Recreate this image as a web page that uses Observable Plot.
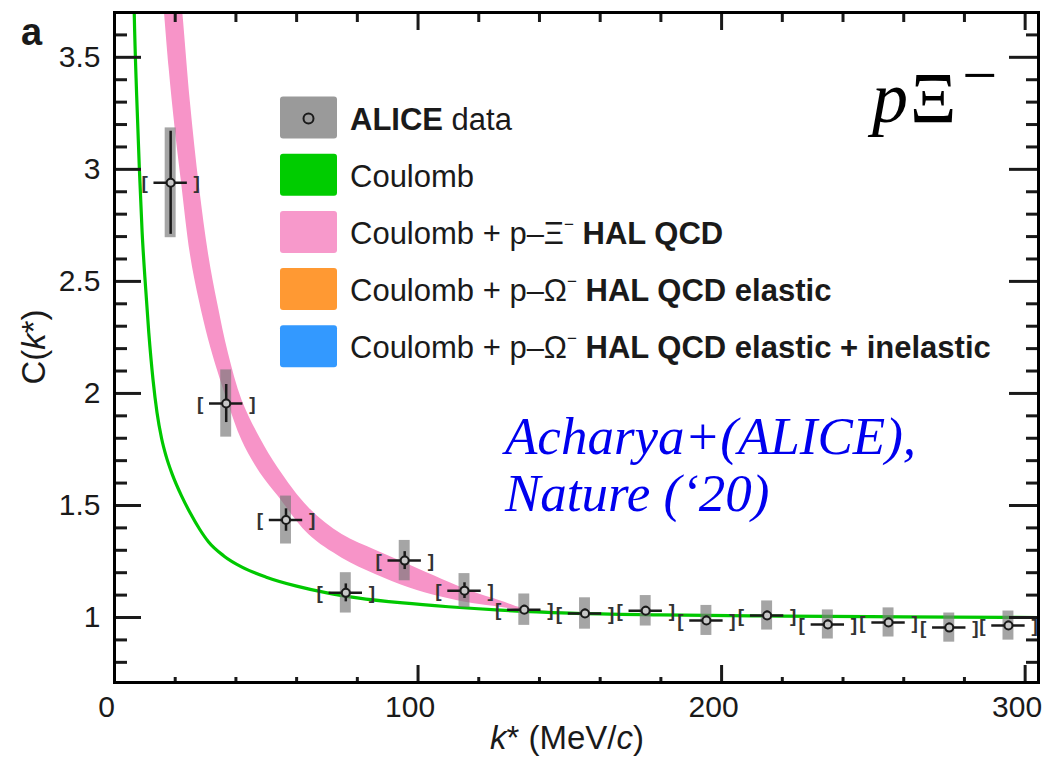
<!DOCTYPE html>
<html><head><meta charset="utf-8">
<script src="https://cdn.jsdelivr.net/npm/d3@7"></script>
<script src="https://cdn.jsdelivr.net/npm/@observablehq/plot@0.6"></script>
<style>
body{margin:0;background:#fff;}
#wrap{position:relative;width:1056px;height:759px;overflow:hidden;}
</style></head><body><div id="wrap"></div>
<script>
// ---- data points (ALICE p-Xi- correlation) ----
const kData   = [18.5, 36.8, 56.5, 76.2, 95.6, 115.3, 135, 155, 175, 195, 215, 235, 255, 275, 294.5];
const cData   = [2.94, 1.955, 1.435, 1.11, 1.254, 1.12, 1.035, 1.018, 1.03, 0.987, 1.009, 0.969, 0.978, 0.955, 0.964];
const statErr = [0.23, 0.085, 0.05, 0.04, 0.04, 0.035, 0.02, 0.02, 0.02, 0.02, 0.02, 0.02, 0.02, 0.02, 0.02];
const systErr = [0.245, 0.15, 0.107, 0.09, 0.09, 0.076, 0.07, 0.07, 0.068, 0.067, 0.065, 0.065, 0.065, 0.065, 0.065];
const kErr = 5.5;        // horizontal bar half-width (MeV/c)
const bracketOff = 8.6;  // bracket position relative to point (MeV/c)
const boxHalf = 1.8;     // syst box half-width (MeV/c)

// ---- Coulomb curve ----
const coulombK = [6.0, 6.5, 7.3, 8.2, 9.1, 10, 11.3, 12.7, 14, 15.5, 17, 19, 22, 25, 28, 31, 36, 42, 50, 60, 70, 80, 95, 110, 127, 150, 180, 220, 260, 305];
const coulombC = [4.1, 3.70, 3.33, 3.0, 2.72, 2.52, 2.27, 2.06, 1.915, 1.8, 1.72, 1.64, 1.545, 1.465, 1.395, 1.337, 1.275, 1.225, 1.18, 1.14, 1.11, 1.088, 1.065, 1.048, 1.033, 1.02, 1.012, 1.006, 1.003, 1.0];

// ---- Coulomb + p-Xi HAL QCD band ----
const bandK    = [16, 18, 20, 22, 25, 28, 31, 34, 37.5, 42, 48, 54, 64, 75, 86, 97, 108, 118, 127, 135, 150];
const bandLow  = [3.78, 3.45, 3.18, 2.95, 2.62, 2.41, 2.24, 2.10, 1.955, 1.79, 1.645, 1.54, 1.37, 1.265, 1.192, 1.133, 1.09, 1.062, 1.046, 1.032, 1.02];
const bandHigh = [4.6, 4.3, 4.0, 3.77, 3.30, 2.92, 2.62, 2.40, 2.18, 1.97, 1.80, 1.665, 1.49, 1.37, 1.30, 1.235, 1.17, 1.115, 1.075, 1.04, 1.022];

// ---- axes ----
const xMajor = [0, 100, 200, 300];
const xMinor = [20, 40, 60, 80, 120, 140, 160, 180, 220, 240, 260, 280];
const yMajor = [1, 1.5, 2, 2.5, 3, 3.5];
const yMinor = [0.8, 0.9, 1.1, 1.2, 1.3, 1.4, 1.6, 1.7, 1.8, 1.9, 2.1, 2.2, 2.3, 2.4, 2.6, 2.7, 2.8, 2.9, 3.1, 3.2, 3.3, 3.4, 3.6];

// ---- legend ----
const legendLabels = [
  [["ALICE", "bold"], [" data", "normal"]],
  [["Coulomb", "normal"]],
  [["Coulomb + p\u2013\u039E", "normal"], ["\u2212", "sup"], [" HAL QCD", "bold"]],
  [["Coulomb + p\u2013\u03A9", "normal"], ["\u2212", "sup"], [" HAL QCD elastic", "bold"]],
  [["Coulomb + p\u2013\u03A9", "normal"], ["\u2212", "sup"], [" HAL QCD elastic + inelastic", "bold"]]
];
const legendColors = ["#9a9a9a", "#00cc00", "#f799cb", "#ff9933", "#3399ff"];

const green = "#00c800", pink = "#f794c8", ink = "#1a1a1a";

const points = kData.map((k, i) => ({k, c: cData[i], stat: statErr[i], syst: systErr[i]}));
const coul = coulombK.map((k, i) => ({k, c: coulombC[i]}));
const band = bandK.map((k, i) => ({k, lo: bandLow[i], hi: bandHigh[i]}));

const chart = Plot.plot({
  width: 1056, height: 759,
  marginLeft: 114, marginRight: 18, marginTop: 12, marginBottom: 77,
  x: {domain: [0, 304.4], axis: null, label: null},
  y: {domain: [0.71, 3.70], axis: null, label: null},
  style: {fontFamily: "'Liberation Sans', Arial, sans-serif", fontSize: "30px", color: ink, background: "white", overflow: "visible"},
  marks: [
    Plot.areaY(band, {x: "k", y1: "lo", y2: "hi", fill: pink, curve: "catmull-rom", clip: true}),
    Plot.line(coul, {x: "k", y: "c", stroke: green, strokeWidth: 3.2, curve: "monotone-x", clip: true}),
    Plot.rect(points, {x1: d => d.k - boxHalf, x2: d => d.k + boxHalf, y1: d => d.c - d.syst, y2: d => d.c + d.syst, fill: "#7a7a7a", fillOpacity: 0.68}),
    Plot.ruleX(points, {x: "k", y1: d => d.c - d.stat, y2: d => d.c + d.stat, stroke: ink, strokeWidth: 2.5}),
    Plot.ruleY(points, {y: "c", x1: d => d.k - kErr, x2: d => d.k + kErr, stroke: ink, strokeWidth: 2.5}),
    Plot.text(points, {x: d => d.k - bracketOff, y: "c", text: () => "[", fontSize: 19, fontWeight: "bold", fill: "#333"}),
    Plot.text(points, {x: d => d.k + bracketOff, y: "c", text: () => "]", fontSize: 19, fontWeight: "bold", fill: "#333"}),
    Plot.dot(points, {x: "k", y: "c", r: 4, stroke: ink, strokeWidth: 2, fill: "#c8c8c8"}),
    // inward ticks
    Plot.axisY(yMajor, {anchor: "left", tickSize: -27, tickFormat: () => "", strokeWidth: 3, label: null}),
    Plot.axisY(yMinor, {anchor: "left", tickSize: -13, tickFormat: () => "", strokeWidth: 3, label: null}),
    Plot.axisY(yMajor, {anchor: "right", tickSize: -30, tickFormat: () => "", strokeWidth: 3, label: null}),
    Plot.axisY(yMinor, {anchor: "right", tickSize: -13, tickFormat: () => "", strokeWidth: 3, label: null}),
    Plot.axisX(xMajor, {anchor: "bottom", tickSize: -17, tickFormat: () => "", strokeWidth: 3, label: null}),
    Plot.axisX(xMinor, {anchor: "bottom", tickSize: -5, tickFormat: () => "", strokeWidth: 3, label: null}),
    Plot.axisX(xMajor, {anchor: "top", tickSize: -17, tickFormat: () => "", strokeWidth: 3, label: null}),
    Plot.axisX(xMinor, {anchor: "top", tickSize: -9, tickFormat: () => "", strokeWidth: 3, label: null}),
    // tick labels
    Plot.axisY(yMajor, {anchor: "left", tickSize: 0, tickPadding: 14, tickFormat: d => String(d), fontSize: 30, fill: ink, label: null}),
    Plot.axisX(xMajor, {anchor: "bottom", tickSize: 0, tickPadding: 13, dx: -8, tickFormat: d => String(d), fontSize: 30, fill: ink, label: null}),
    Plot.frame({stroke: "#000", strokeWidth: 3})
  ]
});
document.getElementById("wrap").appendChild(chart);

// ---- annotations overlay ----
const svg = d3.select(chart);
const g = svg.append("g").attr("font-family", "'Liberation Sans', Arial, sans-serif").attr("fill", ink).attr("text-anchor", "start");

// panel letter
g.append("text").attr("x", 21).attr("y", 45).attr("font-size", 38).attr("font-weight", "bold").text("a");

// y title
const yt = g.append("text").attr("transform", "translate(45,347) rotate(-90)").attr("text-anchor", "middle").attr("font-size", 33);
yt.append("tspan").text("C(");
yt.append("tspan").attr("font-style", "italic").text("k");
yt.append("tspan").text("*)");

// x title
const xt = g.append("text").attr("x", 567).attr("y", 749).attr("text-anchor", "middle").attr("font-size", 33);
xt.append("tspan").attr("font-style", "italic").text("k");
xt.append("tspan").text("* (MeV/");
xt.append("tspan").attr("font-style", "italic").text("c");
xt.append("tspan").text(")");

// legend
const rowY0 = 117.5, rowStep = 57.2;
legendLabels.forEach((parts, i) => {
  const cy = rowY0 + i * rowStep;
  g.append("rect").attr("x", 280).attr("y", cy - 21).attr("width", 57).attr("height", 42).attr("rx", 3).attr("fill", legendColors[i]);
  if (i === 0) g.append("circle").attr("cx", 308.5).attr("cy", cy + 1).attr("r", 5).attr("fill", "none").attr("stroke", ink).attr("stroke-width", 2);
  const t = g.append("text").attr("x", 350).attr("y", cy + 12).attr("font-size", 31).attr("text-anchor", "start");
  let prevSup = false;
  parts.forEach(([s, kind]) => {
    const sp = t.append("tspan").text(s);
    if (kind === "bold") sp.attr("font-weight", "bold");
    if (kind === "sup") sp.attr("font-size", 17).attr("dy", -14);
    else if (prevSup) sp.attr("dy", 14);
    prevSup = kind === "sup";
  });
});

// p Xi- label
const px = g.append("text").attr("x", 872).attr("y", 122).attr("text-anchor", "start").attr("font-family", "'Liberation Serif', 'Times New Roman', serif").attr("font-size", 72).attr("fill", "#000");
px.append("tspan").attr("font-style", "italic").text("p");
px.append("tspan").attr("dx", 2).text("\u039E");
px.append("tspan").attr("font-size", 62).attr("dx", 6).attr("dy", -26).text("\u2212");

// reference annotation
const ann = g.append("text").attr("text-anchor", "start").attr("font-family", "'Liberation Serif', 'Times New Roman', serif").attr("font-style", "italic").attr("font-size", 53).attr("fill", "#0000ee");
ann.append("tspan").attr("x", 505).attr("y", 454).text("Acharya+(ALICE),");
ann.append("tspan").attr("x", 505).attr("y", 511).text("Nature (\u201820)");
</script></body></html>
